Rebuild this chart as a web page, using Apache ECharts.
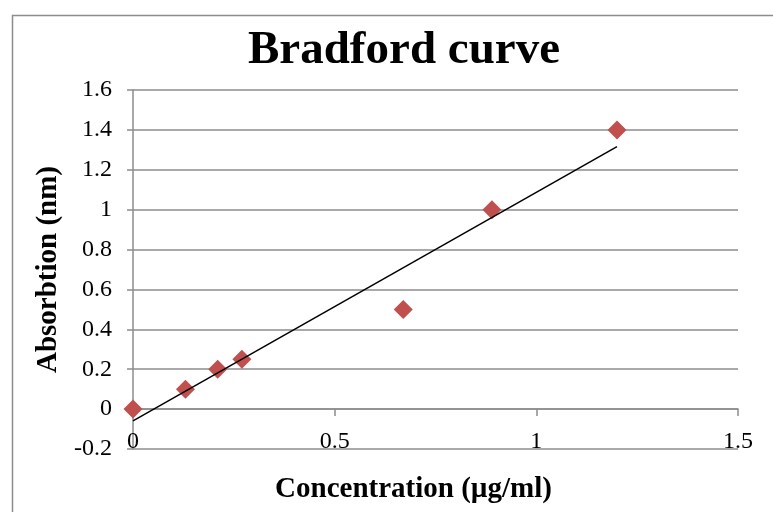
<!DOCTYPE html>
<html>
<head>
<meta charset="utf-8">
<script src="https://cdn.jsdelivr.net/npm/echarts@6/dist/echarts.min.js"></script>
<style>
  html, body { margin: 0; padding: 0; background: #fff; }
  #chart { width: 773px; height: 512px; }
</style>
</head>
<body>
<div id="chart"></div>
<script>
// 数据
var concentration = [0, 0.13, 0.21, 0.27, 0.67, 0.89, 1.2];
var absorbance = [0, 0.1, 0.2, 0.25, 0.5, 1.0, 1.4];
var xTicks = [0, 0.5, 1, 1.5];
var yTicks = [-0.2, 0, 0.2, 0.4, 0.6, 0.8, 1, 1.2, 1.4, 1.6];

// 线性趋势线（最小二乘）
function trend(xs, ys){
    var n = xs.length, sx = 0, sy = 0, sxy = 0, sxx = 0;
    for (var i = 0; i < n; i++) {
        sx += xs[i]; sy += ys[i];
        sxy += xs[i] * ys[i]; sxx += xs[i] * xs[i];
    }
    var k = (n * sxy - sx * sy) / (n * sxx - sx * sx);
    var b = (sy - k * sx) / n;
    var x0 = Math.min.apply(null, xs), x1 = Math.max.apply(null, xs);
    return [[x0, k * x0 + b], [x1, k * x1 + b]];
}

var points = concentration.map(function(x, i){ return [x, absorbance[i]]; });
var font = 'Liberation Serif';

var myChart = echarts.init(document.getElementById('chart'));
var option = {
    backgroundColor: '#fff',
    animation: false,
    title: {
        text: 'Bradford curve',
        left: 399,
        textAlign: 'center',
        top: 22,
        textStyle: { fontFamily: font, fontSize: 47, fontWeight: 'bold', color: '#000' }
    },
    graphic: [{
        type: 'rect',
        left: 10, top: 13,
        shape: { width: 800, height: 600 },
        style: { fill: 'none', stroke: '#8c8c8c', lineWidth: 1.5 },
        silent: true
    }],
    grid: { left: 133, right: 35, top: 90, bottom: 63, outerBoundsMode: 'none' },
    xAxis: {
        type: 'value',
        min: xTicks[0], max: xTicks[xTicks.length - 1], interval: 0.5,
        name: 'Concentration (µg/ml)',
        nameLocation: 'middle',
        nameGap: 26,
        nameMoveOverlap: false,
        nameTextStyle: { fontFamily: font, fontSize: 29, fontWeight: 'bold', color: '#000', padding: [0, 44, 0, 0] },
        axisLine: { show: true, onZero: true, lineStyle: { color: '#8c8c8c', width: 1.5 } },
        axisTick: { show: true, length: 7, lineStyle: { color: '#8c8c8c', width: 1.5 } },
        axisLabel: { margin: -19, fontFamily: font, fontSize: 24, color: '#000' },
        splitLine: { show: false }
    },
    yAxis: {
        type: 'value',
        min: yTicks[0], max: yTicks[yTicks.length - 1], interval: 0.2,
        name: 'Absorbtion (nm)',
        nameLocation: 'middle',
        nameGap: 70,
        nameTextStyle: { fontFamily: font, fontSize: 29, fontWeight: 'bold', color: '#000' },
        axisLine: { show: true, lineStyle: { color: '#8c8c8c', width: 1.5 } },
        axisTick: { show: true, length: 6, lineStyle: { color: '#8c8c8c', width: 1.5 } },
        axisLabel: {
            margin: 21, fontFamily: font, fontSize: 24, color: '#000',
            formatter: function(v){ return String(Math.round(v * 10) / 10); }
        },
        splitLine: { show: true, lineStyle: { color: '#8c8c8c', width: 1.5 } }
    },
    series: [
        {
            type: 'line',
            data: trend(concentration, absorbance),
            showSymbol: false,
            symbol: 'none',
            lineStyle: { color: '#000', width: 1.5 },
            z: 3
        },
        {
            type: 'scatter',
            data: points,
            symbol: 'diamond',
            symbolSize: 19,
            itemStyle: { color: '#C0504D', opacity: 1 },
            z: 2
        }
    ]
};
myChart.setOption(option);
</script>
</body>
</html>
